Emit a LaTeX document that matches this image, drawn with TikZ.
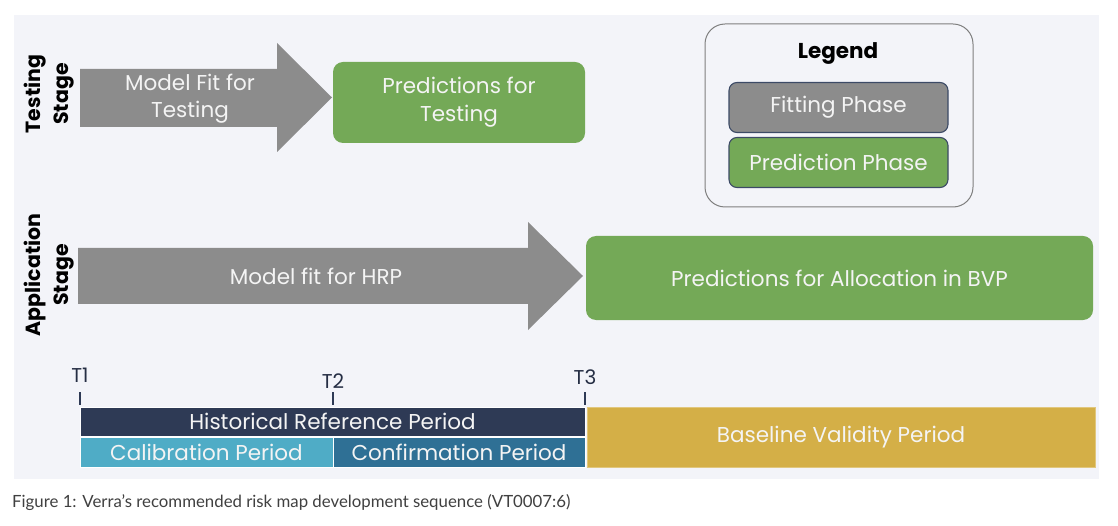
\documentclass[tikz,border=0pt]{standalone}
\usepackage{fontspec}
\setmainfont{Poppins}
\newfontfamily\capfont{Lato}
\definecolor{panel}{HTML}{F3F4F9}
\definecolor{fitgray}{HTML}{8C8C8C}
\definecolor{predgreen}{HTML}{74A957}
\definecolor{histnavy}{HTML}{2E3A55}
\definecolor{calblue}{HTML}{4FACC6}
\definecolor{confblue}{HTML}{2F7095}
\definecolor{gold}{HTML}{D4AF47}
\definecolor{legendedge}{HTML}{7F7F7F}
\definecolor{boxedge}{HTML}{3C4A66}
\definecolor{softwhite}{HTML}{F4F4F4}
\definecolor{captxt}{HTML}{404040}
\tikzset{
  lbl/.style={text=softwhite, inner sep=0pt, align=center, font=\fontsize{21.5}{27}\selectfont},
  greenbox/.style={fill=predgreen, rounded corners=10pt, inner sep=0pt, align=center, text=softwhite, font=\fontsize{21.5}{28}\selectfont},
  legbox/.style={draw=boxedge, line width=1.1pt, rounded corners=8pt, inner sep=0pt, text=softwhite, font=\fontsize{21.5}{25}\selectfont, minimum width=219, minimum height=50},
  bar/.style={draw=white, line width=0.8pt, inner sep=0pt, text=softwhite, font=\fontsize{21.5}{25}\selectfont},
  stagelbl/.style={rotate=90, align=center, inner sep=0pt, font=\fontsize{20.5}{28}\selectfont\bfseries, text=black},
  tick/.style={draw=histnavy, line width=1.6pt},
  tlbl/.style={inner sep=0pt, text=histnavy!80!black, font=\fontsize{20}{22}\selectfont}
}
\begin{document}
\begin{tikzpicture}[x=1pt,y=-1pt]
\useasboundingbox (0,0) rectangle (1118,526);
\fill[white] (0,0) rectangle (1118,526);
\fill[panel] (14,15) rectangle (1099,479);

% Testing stage
\node[stagelbl] (ts) at (49,94) {Testing\\Stage};
\fill[fitgray] (80,69) -- (277,69) -- (277,43) -- (332,97.5) -- (277,152) -- (277,127) -- (80,127) -- cycle;
\node[lbl] (tfit) at (190,99) {Model Fit for\\Testing};
\node[greenbox, minimum width=252, minimum height=81] (tpred) at (459,102.5) {Predictions for\\Testing};

% Application stage
\node[stagelbl] (as) at (49,275) {Application\\Stage};
\fill[fitgray] (78,248) -- (528,248) -- (528,222) -- (583,276) -- (528,330) -- (528,304) -- (78,304) -- cycle;
\node[lbl] (afit) at (316,276) {Model fit for HRP};
\node[greenbox, minimum width=507, minimum height=84] (apred) at (839.5,278) {Predictions for Allocation in BVP};

% Legend
\draw[legendedge, line width=1pt, rounded corners=20pt] (705,24) rectangle (973,207);
\node[inner sep=0pt, font=\fontsize{21.5}{24}\selectfont\bfseries] (leg) at (838,54) {Legend};
\node[legbox, fill=fitgray] (lfit) at (838.5,107.5) {Fitting Phase};
\node[legbox, fill=predgreen] (lpred) at (838.5,162.5) {Prediction Phase};

% Timeline ticks and labels
\coordinate (t1b) at (80,405); \coordinate (t1a) at (80,392);
\coordinate (t2b) at (333,405); \coordinate (t2a) at (333,392);
\coordinate (t3b) at (585,405); \coordinate (t3a) at (585,392);
\draw[tick] (t1a) -- (t1b);
\draw[tick] (t2a) -- (t2b);
\draw[tick] (t3a) -- (t3b);
\node[tlbl] (T1) at (80,375) {T1};
\node[tlbl] (T2) at (333,381) {T2};
\node[tlbl] (T3) at (585,377) {T3};

% Bars
\node[bar, fill=histnavy, minimum width=505, minimum height=29] (hist) at (332.5,421.5) {Historical Reference Period};
\node[bar, fill=calblue, minimum width=253, minimum height=30] (cal) at (206.5,452) {Calibration Period};
\node[bar, fill=confblue, minimum width=252, minimum height=30] (conf) at (459,452) {Confirmation Period};
\node[bar, draw=gold!70!white, fill=gold, minimum width=508, minimum height=60] (bvp) at (841,437) {Baseline Validity Period};

% Caption
\node[anchor=west, inner sep=0pt, text=captxt, font=\capfont\fontsize{16.8}{19}\selectfont] (cap) at (12,503) {Figure 1: Verra’s recommended risk map development sequence (VT0007:6)};
\end{tikzpicture}
\end{document}
